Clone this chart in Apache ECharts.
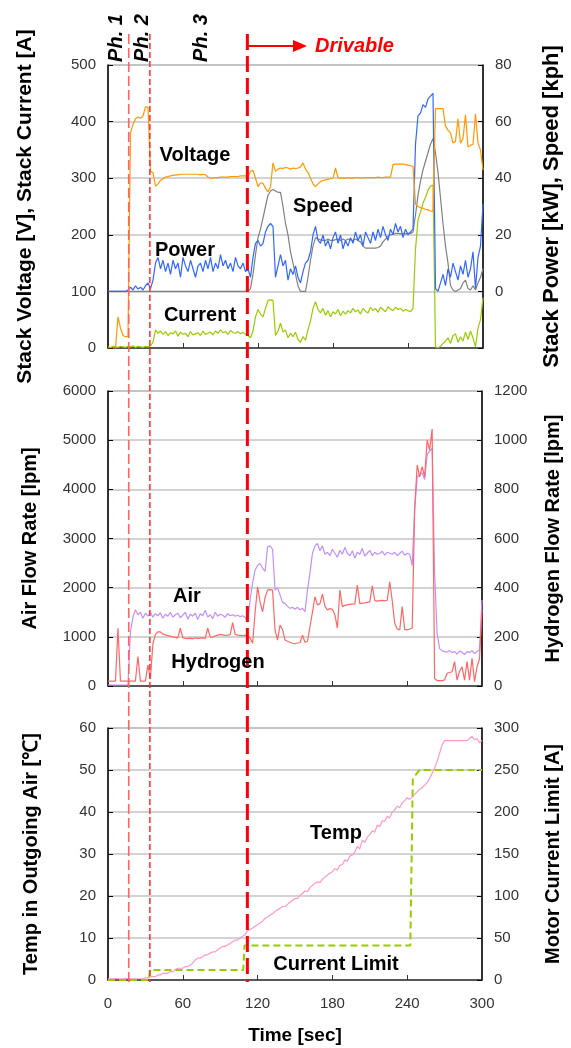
<!DOCTYPE html>
<html><head><meta charset="utf-8">
<script src="https://cdn.jsdelivr.net/npm/echarts@6/dist/echarts.min.js"></script>
<style>html,body{margin:0;padding:0;background:#fff}#c{width:571px;height:1048px}</style>
</head><body><div id="c"></div>
<script>
// ---- sample times (sec) ----
const time = [0,2,4,6,8,10,12,14,16,18,20,22,24,26,28,30,32,34,36,38,40,42,44,46,48,50,52,54,56,58,60,62,64,66,68,70,72,74,76,78,80,82,84,86,88,90,92,94,96,98,100,102,104,106,108,110,112,114,116,118,120,122,124,126,128,130,132,134,136,138,140,142,144,146,148,150,152,154,156,158,160,162,164,166,168,170,172,174,176,178,180,182,184,186,188,190,192,194,196,198,200,202,204,206,208,210,212,214,216,218,220,222,224,226,228,230,232,234,236,238,240,242,244,246,248,250,252,254,256,258,260,262,264,266,268,270,272,274,276,278,280,282,284,286,288,290,292,294,296,298,300];

// ---- panel 1 ----
const stackVoltage = [0,0,0,0,55,35,22,20,20,380,
 395,405,408,406,410,426,425,312,310,286,
 290,296,299,302,303,304,305,306,306,307,
 307,307,307,307,307,307,307,306,307,306,
 302,300,300,301,301,302,302,302,302,303,
 303,303,303,304,304,304,303,312,314,300,
 285,292,291,282,276,285,327,312,316,318,
 317,319,318,316,318,317,318,320,327,316,
 310,300,290,285,290,294,296,297,298,299,
 300,318,301,300,300,300,301,300,300,301,
 301,300,301,301,301,301,301,301,302,301,
 301,302,302,302,324,325,325,325,325,324,
 323,322,321,254,250,248,247,245,244,242,
 241,423,423,423,423,392,385,380,362,365,
 405,362,370,412,355,358,360,414,362,350,
 314];
const stackCurrent = [2,1,3,2,1,3,2,1,3,2,
 4,1,3,2,1,3,2,4,10,32,
 26,30,24,29,22,27,25,30,21,28,
 24,26,20,29,23,25,27,22,30,24,
 26,28,23,30,26,32,27,29,24,31,
 27,26,29,25,28,24,22,18,30,55,
 68,60,55,70,84,85,84,22,30,44,
 28,32,18,26,20,28,15,10,20,14,
 32,48,70,82,68,62,70,58,66,55,
 64,60,68,57,65,60,66,62,70,64,
 67,60,70,65,62,72,66,70,63,72,
 68,64,73,69,66,72,68,70,65,68,
 66,64,70,175,226,240,256,266,279,286,
 288,2,0,3,8,12,18,8,22,25,
 10,20,12,28,15,30,18,2,35,50,
 89];
const stackPower = [0,0,0,0,0,0,0,0,0.5,1.5,
 0.5,2,0.8,1.5,0.5,2,3,1,4,10,
 12,8,11,7,10,6,11,8,10,5,
 12,9,7,11,8,5,9,10,7,11,
 8,12,7,10,8,13,9,11,8,10,
 7,12,9,8,10,7,8,5,12,17,
 18,16,17,21,23,24,23,5,9,13,
 9,11,4,8,6,9,5,3,7,10,
 11,14,20,23,18,17,20,16,18,15,
 19,21,17,20,15,18,16,19,17,21,
 18,20,16,21,19,17,21,18,22,19,
 23,20,18,22,20,24,21,23,19,22,
 20,21,22,52,62,63,66,65,68,69,
 70,1,0,3,6,2,8,5,10,7,
 4,9,6,11,5,8,14,1,12,16,
 31];
const speed = [0,0,0,0,0,0,0,0,0,0,
 0,0,0,0,0,0,0,0,0,0,
 0,0,0,0,0,0,0,0,0,0,
 0,0,0,0,0,0,0,0,0,0,
 0,0,0,0,0,0,0,0,0,0,
 0,0,0,0,0,0,0,1,6,13,
 19,22,26,30,34,35.5,36,35.5,35,35,
 30,24,20,14,10,6,2,0,0,0,
 5,11,16,19,18.5,18.2,18,18,18.5,18,
 18,18.3,18.5,18,18.5,18,18.5,18.2,18,18.5,
 18,17.5,16,15.3,15.3,15.3,15.3,15.3,15.5,16,
 17.5,18.5,19.5,20,20.2,20.5,20.5,20.3,20.5,20.3,
 20.5,20.5,21,27,34,39,43,46,49,52,
 54,49,42,33,24,16,10,2,0.5,0,
 0.5,1,3,4,1,0.5,2,0.5,3,5,
 8];

// ---- panel 2 ----
const airFlow = [20,20,20,20,20,20,20,20,20,1100,
 1400,1550,1450,1500,1380,1480,1420,1500,1400,1470,
 1430,1490,1380,1460,1420,1500,1400,1450,1480,1390,
 1440,1500,1360,1460,1420,1480,1350,1470,1430,1540,
 1400,1450,1370,1500,1420,1460,1440,1400,1470,1430,
 1450,1420,1440,1410,1430,1400,1300,1750,2100,2360,
 2450,2490,2400,2330,2830,2850,2780,1950,2000,1850,
 1700,1680,1620,1580,1600,1560,1600,1550,1580,1510,
 1950,2300,2700,2850,2900,2750,2850,2680,2720,2650,
 2780,2700,2620,2760,2680,2820,2700,2650,2750,2600,
 2720,2680,2800,2640,2700,2760,2650,2720,2680,2700,
 2740,2660,2720,2700,2680,2720,2650,2700,2740,2660,
 2700,2680,2450,3600,4250,4300,4330,4200,4700,4780,
 4830,2300,1070,760,720,700,690,720,680,700,
 650,710,690,640,700,680,720,660,700,730,
 1750];
const hydrogenFlow = [20,20,20,20,235,20,20,20,20,20,
 20,20,120,20,20,20,85,30,170,210,
 220,220,212,208,205,203,200,198,196,235,
 197,194,193,195,192,196,194,195,196,194,
 235,200,198,204,207,210,208,206,207,209,
 258,210,207,206,205,206,205,195,174,300,
 404,340,302,360,390,392,390,228,187,248,
 230,187,182,178,174,172,175,176,207,178,
 182,241,300,363,330,335,374,325,309,315,
 312,290,235,390,323,328,330,332,333,334,
 411,335,337,338,340,342,407,347,345,347,
 348,346,349,424,346,255,232,228,323,230,
 228,232,235,720,899,851,892,851,1000,960,
 1045,30,22,22,22,25,52,55,58,99,
 24,60,78,24,99,24,113,18,78,110,
 310];

// ---- panel 3 ----
const outletTemp = [0.3,0.3,0.3,0.4,0.3,0.3,0.3,0.4,0.3,0.3,
 0.3,0.3,0.3,0.3,0.3,0.5,0.5,0.8,0.8,0.8,
 1.2,1.2,1.6,1.6,1.6,2.0,2.0,2.5,2.8,2.8,
 2.8,3.2,3.2,3.6,4.0,4.8,5.2,5.2,5.6,6.0,
 6.0,6.4,6.7,6.7,7.2,7.6,8.0,8.0,8.4,8.7,
 9.1,9.5,9.5,10.0,10.4,10.8,11.8,12.0,12.4,12.8,
 13.2,13.6,14.0,14.7,15.0,15.5,15.8,16.3,16.7,17.1,
 17.5,17.5,18.0,18.5,19.0,19.4,19.4,20.2,20.6,21.2,
 21.0,22.0,22.5,23.0,23.4,23.2,24.0,24.5,25.0,25.4,
 25.8,26.5,26.2,27.3,27.5,28.6,28.3,29.5,29.8,30.5,
 31.8,31.2,33.3,32.8,34.0,34.6,35.5,35.2,36.9,36.5,
 37.9,37.8,39.0,38.6,40.0,40.5,41.4,41.0,42.2,42.7,
 43.4,43.0,43.6,44.2,44.8,45.4,45.8,46.4,47.0,48.0,
 49.2,50.5,52.0,54.0,56.0,57.0,57.0,57.0,57.0,57.0,
 57.0,57.0,57.0,57.0,57.0,57.5,58.0,57.2,57.5,56.5,
 57.0];
const limitTime  = [0, 33, 33.5, 108.5, 109.5, 242.5, 244.5, 250, 300];
const limitValue = [0, 0, 12, 12, 41, 41, 240, 250, 250];

// ---- axes / annotations ----
const xTicks = [0, 60, 120, 180, 240, 300];
const phaseTimes = [16.6, 33.5, 111.5];
const phaseLabels = ['Ph. 1', 'Ph. 2', 'Ph. 3'];

const FONT = '"Liberation Sans", Arial, sans-serif';
const pairs = (vals) => time.map((t, i) => [t, vals[i]]);

const chart = echarts.init(document.getElementById('c'), null, {renderer: 'canvas'});

const grids = [
  {left: 108, right: 84, top: 65, height: 283},
  {left: 108, right: 84, top: 391, height: 295},
  {left: 108, right: 84, top: 728, height: 252}
].map(g => Object.assign(g, {show: true, borderColor: '#888', borderWidth: 1, backgroundColor: 'transparent'}));

function xAx(i) {
  return {
    type: 'value', gridIndex: i, min: xTicks[0], max: xTicks[xTicks.length - 1], interval: 60,
    axisLine: {show: true, lineStyle: {color: '#333', width: 1.5}},
    axisTick: {show: true, inside: true, length: 5, lineStyle: {color: '#333'}},
    axisLabel: {show: i === 2, color: '#333', fontSize: 15, fontFamily: FONT, margin: 16},
    splitLine: {show: false},
    name: i === 2 ? 'Time [sec]' : '', nameLocation: 'middle', nameGap: 46,
    nameTextStyle: {fontSize: 19, fontWeight: 'bold', color: '#000', fontFamily: FONT}
  };
}
function yAx(i, pos, min, max, interval, name, gap, split, nameSize) {
  return {
    type: 'value', gridIndex: i, position: pos, min, max, interval,
    axisLine: {show: true, lineStyle: {color: '#000', width: 1.5}},
    axisTick: {show: true, inside: true, length: 5, lineStyle: {color: '#000'}},
    axisLabel: {color: '#333', fontSize: 15, fontFamily: FONT, margin: 12,
      formatter: v => (v < 0 ? '' : String(v))},
    splitLine: {show: split, lineStyle: {color: '#c4c4c4', width: 1.5}},
    name, nameLocation: 'middle', nameGap: gap,
    nameTextStyle: {fontSize: nameSize, fontWeight: 'bold', color: '#000', fontFamily: FONT}
  };
}

function line(xi, yi, data, color, width, extra) {
  return Object.assign({
    type: 'line', xAxisIndex: xi, yAxisIndex: yi, data, symbol: 'none', animation: false,
    lineStyle: {color, width: width}, itemStyle: {color}
  }, extra || {});
}

chart.setOption({
  animation: false,
  backgroundColor: '#fff',
  grid: grids,
  xAxis: [xAx(0), xAx(1), xAx(2)],
  yAxis: [
    yAx(0, 'left', 0, 500, 100, 'Stack Voltage [V], Stack Current [A]', 72, true, 21),
    yAx(0, 'right', -20, 80, 20, 'Stack Power [kW], Speed [kph]', 58, false, 22),
    yAx(1, 'left', 0, 6000, 1000, 'Air Flow Rate [lpm]', 68, true, 20),
    yAx(1, 'right', 0, 1200, 200, 'Hydrogen Flow Rate [lpm]', 61, false, 20),
    yAx(2, 'left', 0, 60, 10, 'Temp in Outgoing Air [℃]', 67, true, 20),
    yAx(2, 'right', 0, 300, 50, 'Motor Current Limit [A]', 61, false, 20)
  ],
  series: [
    line(0, 0, pairs(stackCurrent), '#99cc00', 1.2),
    line(0, 1, pairs(speed), '#808080', 1.2),
    line(0, 1, pairs(stackPower), '#3366ff', 1.2),
    line(0, 0, pairs(stackVoltage), '#ff9900', 1.2),
    line(1, 2, pairs(airFlow), '#c090ff', 1.2),
    line(1, 3, pairs(hydrogenFlow), '#ff6666', 1.2),
    line(2, 4, pairs(outletTemp), '#ff99cc', 1.2),
    line(2, 5, limitTime.map((t, i) => [t, limitValue[i]]), '#99cc00', 2, {lineStyle: {color: '#99cc00', width: 2, type: [7, 4]}})
  ]
});

// ---- annotations (phase boundaries placed via the x scale) ----
const px = phaseTimes.map(t => chart.convertToPixel({xAxisIndex: 0}, t));
const yTop = 34;
const yBot = chart.convertToPixel({yAxisIndex: 4}, 0) + 2;
const g = [];
const dashStyles = [
  {stroke: '#ff6464', lineWidth: 1.6, lineDash: [10, 4]},
  {stroke: '#ff2a2a', lineWidth: 1.5, lineDash: [6, 3]},
  {stroke: '#ff0000', lineWidth: 3, lineDash: [16, 6]}
];
px.forEach((x, i) => {
  g.push({type: 'line', z: 100, shape: {x1: x, y1: yTop, x2: x, y2: yBot}, style: dashStyles[i]});
});
const phLabelX = [116.5, 142, 201];
phaseLabels.forEach((s, i) => {
  g.push({type: 'text', z: 100, x: phLabelX[i], y: 38, rotation: Math.PI / 2,
    style: {text: s, font: 'italic bold 20px ' + FONT, fill: '#000', align: 'center', verticalAlign: 'middle'}});
});
// Drivable arrow
g.push({type: 'line', z: 100, shape: {x1: px[2], y1: 46, x2: 296, y2: 46}, style: {stroke: '#ff0000', lineWidth: 2}});
g.push({type: 'polygon', z: 100, shape: {points: [[293, 40], [307, 46], [293, 52]]}, style: {fill: '#ff0000'}});
g.push({type: 'text', z: 100, x: 315, y: 46,
  style: {text: 'Drivable', font: 'italic bold 20px ' + FONT, fill: '#ff0000', align: 'left', verticalAlign: 'middle'}});

const labels = [
  ['Voltage', 195, 155], ['Speed', 323, 206], ['Power', 185, 250], ['Current', 200, 315],
  ['Air', 187, 596], ['Hydrogen', 218, 662], ['Temp', 336, 833], ['Current Limit', 336, 964]
];
labels.forEach(([s, x, y]) => {
  g.push({type: 'text', z: 100, x, y,
    style: {text: s, font: 'bold 20px ' + FONT, fill: '#000', align: 'center', verticalAlign: 'middle'}});
});
chart.setOption({graphic: g});
</script>
</body></html>
